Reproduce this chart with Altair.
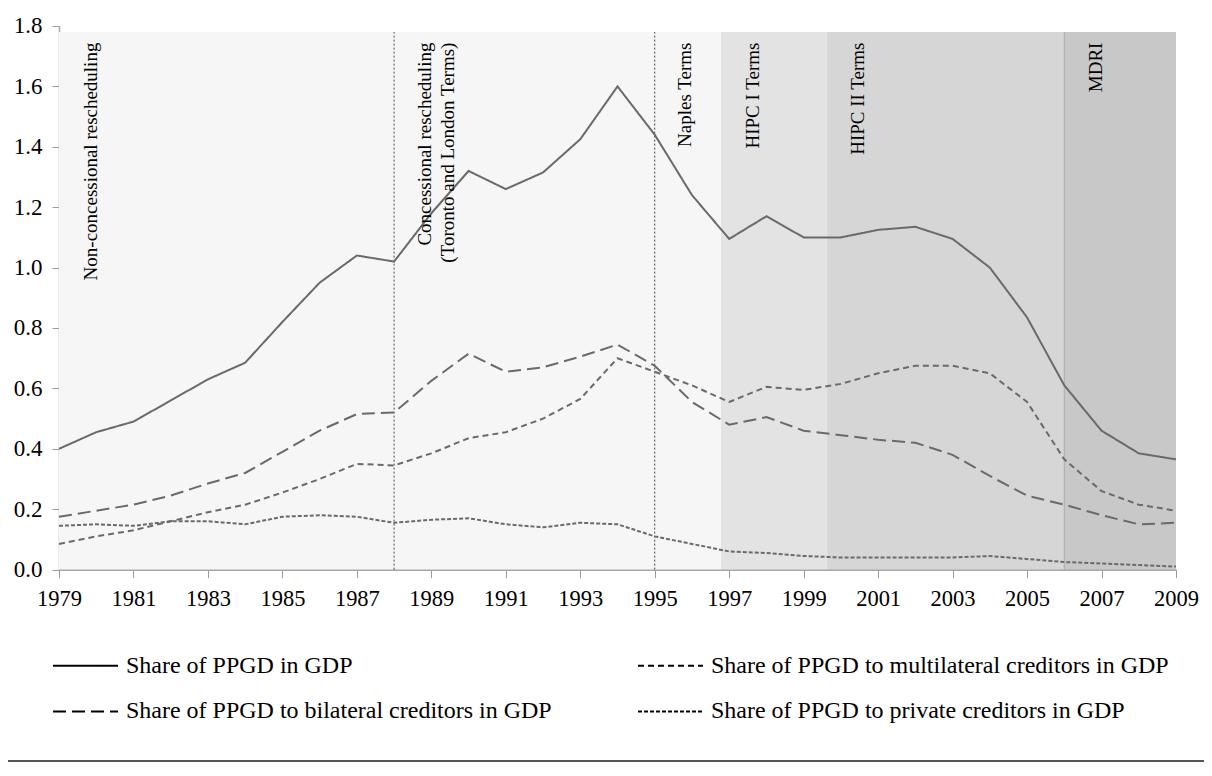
import altair as alt
import pandas as pd

years = list(range(1979, 2010))

total = [0.40, 0.455, 0.49, 0.56, 0.63, 0.685, 0.82, 0.95, 1.04, 1.02,
         1.18, 1.32, 1.26, 1.315, 1.425, 1.60, 1.44, 1.24, 1.095, 1.17,
         1.10, 1.10, 1.125, 1.135, 1.095, 1.00, 0.835, 0.61, 0.46, 0.385, 0.365]
bilateral = [0.175, 0.195, 0.215, 0.245, 0.285, 0.32, 0.39, 0.46, 0.515, 0.52,
             0.625, 0.715, 0.655, 0.67, 0.705, 0.745, 0.675, 0.555, 0.48, 0.505,
             0.46, 0.445, 0.43, 0.42, 0.38, 0.31, 0.245, 0.215, 0.18, 0.15, 0.155]
multilateral = [0.085, 0.11, 0.13, 0.16, 0.19, 0.215, 0.255, 0.30, 0.35, 0.345,
                0.385, 0.435, 0.455, 0.50, 0.565, 0.70, 0.655, 0.61, 0.555, 0.605,
                0.595, 0.615, 0.65, 0.675, 0.675, 0.65, 0.555, 0.365, 0.26, 0.215, 0.195]
private = [0.145, 0.15, 0.145, 0.16, 0.16, 0.15, 0.175, 0.18, 0.175, 0.155,
           0.165, 0.17, 0.15, 0.14, 0.155, 0.15, 0.11, 0.085, 0.06, 0.055,
           0.045, 0.04, 0.04, 0.04, 0.04, 0.045, 0.035, 0.025, 0.02, 0.015, 0.01]

series_names = [
    "Share of PPGD in GDP",
    "Share of PPGD to multilateral creditors in GDP",
    "Share of PPGD to bilateral creditors in GDP",
    "Share of PPGD to private creditors in GDP",
]
series_dash = [[1, 0], [6, 4], [13, 6], [4, 2]]

region_start = [1979, 1996.78, 1999.63, 2006]
region_end = [1996.78, 1999.63, 2006, 2009]
region_color = ["#f6f6f6", "#e3e3e3", "#d6d6d6", "#c8c8c8"]
region_top = 1.78

period_lines = [1988, 1995]

ann_text = ["Non-concessional rescheduling", "Concessional rescheduling",
            "(Toronto and London Terms)", "Naples Terms", "HIPC I  Terms",
            "HIPC II Terms", "MDRI"]
ann_x = [1979.86, 1988.83, 1989.45, 1995.8, 1997.64, 2000.46, 2006.85]
ann_y = 1.745

FONT = "Liberation Serif"

rows = []
for name, vals in zip(series_names, [total, multilateral, bilateral, private]):
    for yr, v in zip(years, vals):
        rows.append({"year": yr, "value": v, "series": name})
df = pd.DataFrame(rows)

regions = pd.DataFrame({"x1": region_start, "x2": region_end,
                        "c": region_color, "bot": 0.0, "top": region_top})
vlines = pd.DataFrame({"x": period_lines, "bot": 0.0, "top": region_top})
edge = pd.DataFrame({"x": [region_start[3]], "bot": [0.0], "top": [region_top]})
ann = pd.DataFrame({"t": ann_text, "x": ann_x, "y": ann_y})

xscale = alt.Scale(domain=[1979, 2009], nice=False, zero=False)
yscale = alt.Scale(domain=[0, 1.8], nice=False)

shade = alt.Chart(regions).mark_rect().encode(
    x=alt.X("x1:Q", scale=xscale),
    x2="x2:Q",
    y=alt.Y("bot:Q", scale=yscale),
    y2="top:Q",
    color=alt.Color("c:N", scale=None),
)

mdri_edge = alt.Chart(edge).mark_rule(color="#a8a8a8", strokeWidth=1).encode(
    x=alt.X("x:Q", scale=xscale), y=alt.Y("bot:Q", scale=yscale), y2="top:Q"
)

vl = alt.Chart(vlines).mark_rule(color="#444444", strokeWidth=1, strokeDash=[2, 2]).encode(
    x=alt.X("x:Q", scale=xscale), y=alt.Y("bot:Q", scale=yscale), y2="top:Q"
)

lines = alt.Chart(df).mark_line(color="#6a6a6a", strokeWidth=2).encode(
    x=alt.X("year:Q", scale=xscale,
            axis=alt.Axis(title=None, values=years, format="d",
                          labelExpr="datum.value % 2 == 1 ? datum.label : ''",
                          labelFontSize=22.5, labelFont=FONT, labelColor="#000000",
                          labelPadding=10, tickSize=8, tickColor="#9a9a9a",
                          domainColor="#a8a8a8", domainWidth=2, grid=False,
                          labelFlush=False)),
    y=alt.Y("value:Q", scale=yscale,
            axis=alt.Axis(title=None, values=[round(0.2 * i, 1) for i in range(10)],
                          format=".1f", labelFontSize=23, labelFont=FONT,
                          labelColor="#000000", tickSize=7, tickColor="#9a9a9a",
                          domainColor="#a8a8a8", domainWidth=1.5, grid=False,
                          labelPadding=10)),
    strokeDash=alt.StrokeDash(
        "series:N",
        scale=alt.Scale(domain=series_names, range=series_dash),
        sort=series_names,
        legend=alt.Legend(
            title=None, orient="none", legendX=-7, legendY=606, columns=2,
            direction="horizontal",
            symbolType="stroke", symbolSize=4225, symbolStrokeWidth=2,
            symbolStrokeColor="#000000", labelFont=FONT, labelFontSize=24,
            labelColor="#000000", labelOffset=7, columnPadding=82,
            rowPadding=-18, padding=0, labelLimit=600,
        ),
    ),
)

texts = alt.Chart(ann).mark_text(
    angle=270, align="right", baseline="middle", font=FONT, fontSize=19,
    color="#000000"
).encode(x=alt.X("x:Q", scale=xscale), y=alt.Y("y:Q", scale=yscale), text="t:N")

border = alt.Chart(pd.DataFrame({"k": [0]})).mark_rule(color="#555555", strokeWidth=2).encode(
    x=alt.value(-51), x2=alt.value(1145), y=alt.value(735)
)

chart = alt.layer(shade, mdri_edge, vl, lines, texts, border).properties(
    width=1117, height=543.6,
    autosize=alt.AutoSizeParams(type="none"),
    padding={"left": 51, "top": 18, "right": 28, "bottom": 194},
).configure_view(stroke=None)

chart.save("out.html", embed_options={"renderer": "svg", "actions": False})
